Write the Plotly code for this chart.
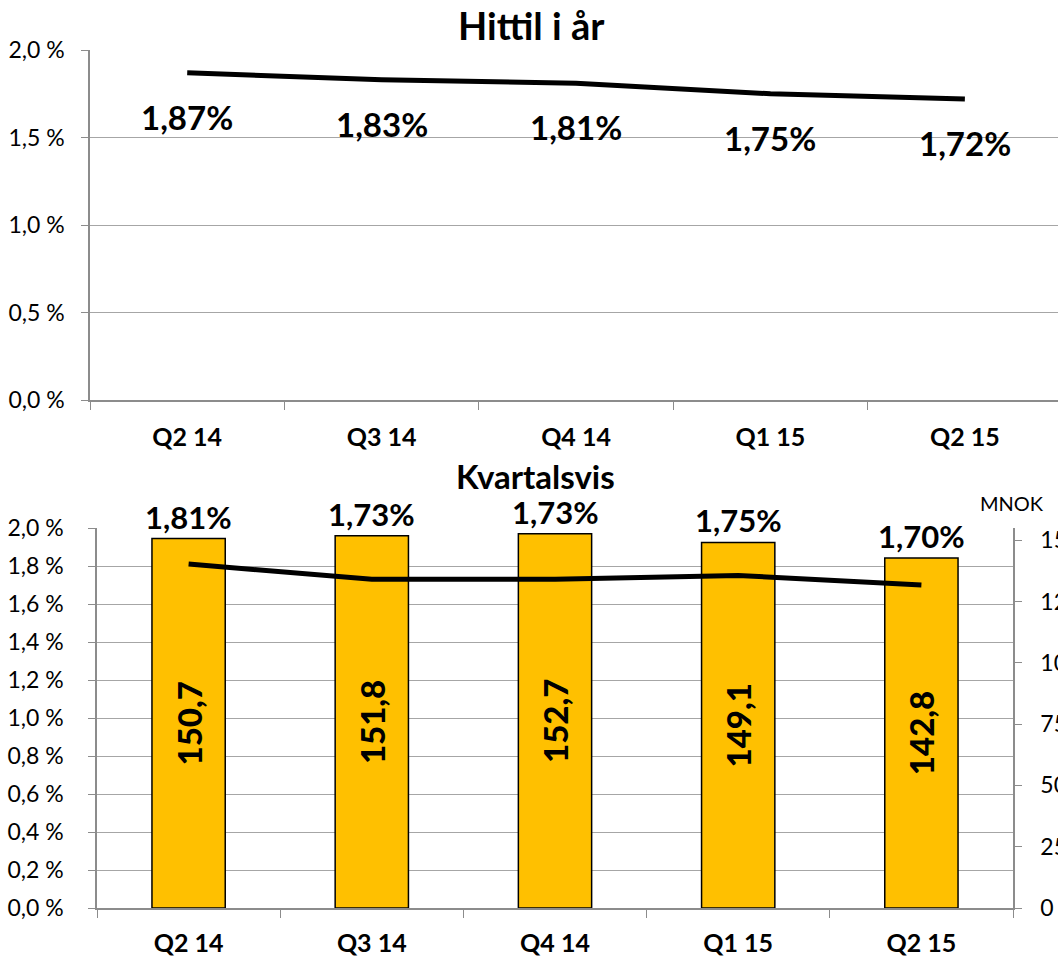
import plotly.graph_objects as go

# ---- data ----
categories = ["Q2 14", "Q3 14", "Q4 14", "Q1 15", "Q2 15"]
ytd_rate = [1.87, 1.83, 1.81, 1.75, 1.72]          # Hittil i år, %
quarter_rate = [1.81, 1.73, 1.73, 1.75, 1.70]      # Kvartalsvis, %
quarter_mnok = [150.7, 151.8, 152.7, 149.1, 142.8]  # Kvartalsvis, MNOK

top_ticks = [0, 0.5, 1.0, 1.5, 2.0]
bottom_ticks = [0, 0.2, 0.4, 0.6, 0.8, 1.0, 1.2, 1.4, 1.6, 1.8, 2.0]
mnok_ticks = [0, 25, 50, 75, 100, 125, 150]


def pct(v):
    return f"{v:.2f}%".replace(".", ",")


def num(v):
    return f"{v:.1f}".replace(".", ",")


def tick_pct(v):
    return f"{v:.1f} %".replace(".", ",")


FONT = "Lato"
GRID = "#A6A6A6"
AXIS = "#8C8C8C"

fig = go.Figure()

# top: year to date line
fig.add_trace(go.Scatter(
    x=categories, y=ytd_rate, mode="lines",
    line=dict(color="black", width=5),
    xaxis="x", yaxis="y", showlegend=False, hoverinfo="skip"))

# bottom: bars on MNOK axis
fig.add_trace(go.Bar(
    x=categories, y=quarter_mnok, width=0.4,
    marker=dict(color="#FFC000", line=dict(color="black", width=1.5)),
    text=[num(v) for v in quarter_mnok], textposition="inside",
    textangle=-90, insidetextanchor="middle",
    textfont=dict(family=FONT, size=33, color="black", weight=900),
    xaxis="x2", yaxis="y2", showlegend=False, hoverinfo="skip"))

# bottom: quarterly rate line
fig.add_trace(go.Scatter(
    x=categories, y=quarter_rate, mode="lines",
    line=dict(color="black", width=5),
    xaxis="x2", yaxis="y3", showlegend=False, hoverinfo="skip"))

annotations = []
for c, v in zip(categories, ytd_rate):
    annotations.append(dict(
        x=c, y=v, xref="x", yref="y", text=pct(v), showarrow=False,
        yanchor="middle", yshift=-44,
        font=dict(family=FONT, size=33, color="black", weight="bold")))
for c, v, m in zip(categories, quarter_rate, quarter_mnok):
    annotations.append(dict(
        x=c, y=m, xref="x2", yref="y2", text=pct(v), showarrow=False,
        yanchor="middle", yshift=22,
        font=dict(family=FONT, size=31, color="black", weight="bold")))

annotations += [
    dict(text="Hittil i år", x=531 / 1058, y=1 - 25 / 956, xref="paper", yref="paper",
         showarrow=False, xanchor="center", yanchor="middle",
         font=dict(family=FONT, size=38, color="black", weight="bold")),
    dict(text="Kvartalsvis", x=535 / 1058, y=1 - 476 / 956, xref="paper", yref="paper",
         showarrow=False, xanchor="center", yanchor="middle",
         font=dict(family=FONT, size=33, color="black", weight="bold")),
    dict(text="MNOK", x=1012 / 1058, y=1 - 503 / 956, xref="paper", yref="paper",
         showarrow=False, xanchor="center", yanchor="middle",
         font=dict(family=FONT, size=20, color="black")),
]

tickfont = dict(family=FONT, size=23, color="black")
xtickfont = dict(family=FONT, size=25, color="black", weight="bold")

fig.update_layout(
    width=1058, height=956,
    margin=dict(l=0, r=0, t=0, b=0),
    paper_bgcolor="white", plot_bgcolor="white",
    showlegend=False,
    annotations=annotations,
    xaxis=dict(domain=[90 / 1058, 1.0], anchor="y", type="category",
               range=[-0.5, 4.479], tickson="boundaries", ticks="outside",
               ticklen=8, tickcolor=AXIS, showline=True, linecolor=AXIS,
               linewidth=1.5, showgrid=False, tickfont=xtickfont,
               ticklabelstandoff=14, automargin=False, fixedrange=True),
    yaxis=dict(domain=[1 - 400 / 956, 1 - 50 / 956], anchor="x",
               range=[0, 2.0], tickvals=top_ticks,
               ticktext=[tick_pct(v) for v in top_ticks],
               ticks="outside", ticklen=7, tickcolor=AXIS,
               showline=True, linecolor=AXIS, linewidth=1.5,
               showgrid=True, gridcolor=GRID, gridwidth=1, zeroline=False,
               tickfont=tickfont, ticklabelstandoff=12, automargin=False),
    xaxis2=dict(domain=[97 / 1058, 1013 / 1058], anchor="y2", type="category",
                range=[-0.5, 4.5], tickson="boundaries", ticks="outside",
                ticklen=8, tickcolor=AXIS, showline=True, linecolor=AXIS,
                linewidth=1.5, showgrid=False, tickfont=xtickfont,
                ticklabelstandoff=12, automargin=False),
    yaxis2=dict(domain=[1 - 908 / 956, 1 - 528 / 956], anchor="x2",
                side="right", range=[0, 155], tickvals=mnok_ticks,
                ticks="outside", ticklen=7, tickcolor=AXIS, showline=True,
                linecolor=AXIS, linewidth=1.5, showgrid=False, zeroline=False,
                tickfont=tickfont, ticklabelstandoff=14, automargin=False),
    yaxis3=dict(overlaying="y2", anchor="x2", side="left",
                range=[0, 2.0], tickvals=bottom_ticks,
                ticktext=[tick_pct(v) for v in bottom_ticks],
                ticks="outside", ticklen=7, tickcolor=AXIS,
                showline=True, linecolor=AXIS, linewidth=1.5,
                showgrid=True, gridcolor=GRID, gridwidth=1, zeroline=False,
                tickfont=tickfont, ticklabelstandoff=20, automargin=False),
)

fig.write_html("out.html", config={"displayModeBar": False},
               post_script="document.body.style.margin='0';")
